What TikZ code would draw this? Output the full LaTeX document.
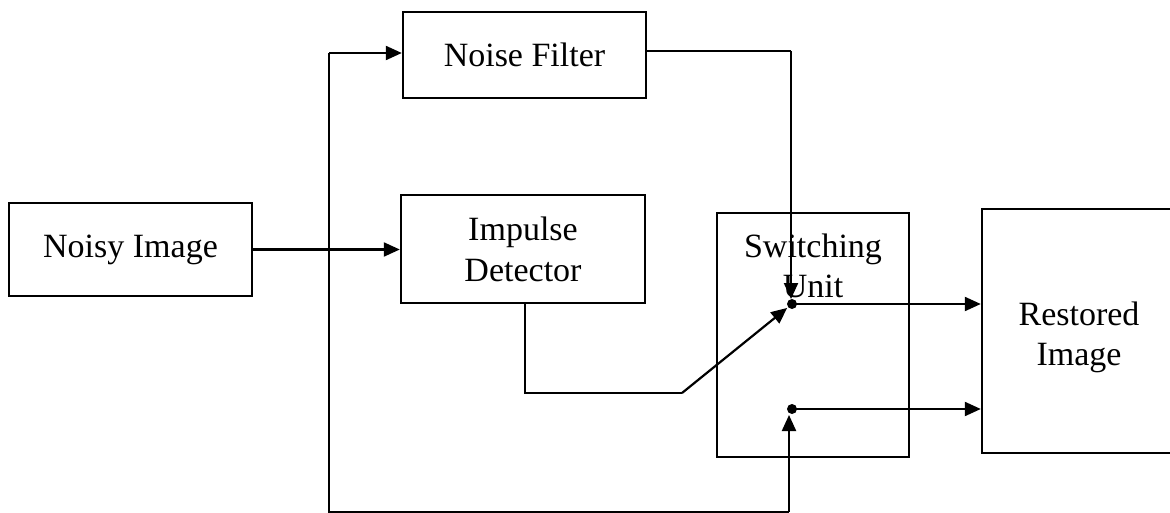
\documentclass[tikz,border=0pt]{standalone}
\usepackage{fontspec}
\setmainfont{Liberation Serif}
\usetikzlibrary{arrows.meta}
\begin{document}
\begin{tikzpicture}[x=1pt,y=-1pt,
  blk/.style={draw,line width=2.4pt,inner sep=0pt,align=center,font=\fontsize{34}{41}\selectfont},
  lab/.style={inner sep=0pt,align=center,font=\fontsize{34}{40}\selectfont},
  conn/.style={line width=2.2pt},
  arr/.style={conn,-{Triangle[length=16pt,width=14pt]}},
  dot/.style={circle,fill,inner sep=0pt,minimum size=10pt}]
\useasboundingbox (0,0) rectangle (1170,513);
% boxes
\node[blk,minimum width=243pt,minimum height=86pt] (nf) at (524.5,55) {Noise Filter};
\node[blk,minimum width=243pt,minimum height=93pt] (ni) at (130.5,249.5) {Noisy Image};
\node[blk,minimum width=244pt,minimum height=108pt] (id) at (523,249) {Impulse\\Detector};
\node[blk,minimum width=192pt,minimum height=244pt] (su) at (813,335) {};
\node[lab] (sut) at (813,266) {Switching\\Unit};
\node[blk,minimum width=196pt,minimum height=244pt] (ri) at (1080,331) {};
\node[lab] (rit) at (1079,337) {Restored\\Image};
% switch contacts
\node[dot] (d1) at (792,304) {};
\node[dot] (d2) at (792,409) {};
% helper coordinates
\coordinate (tl) at (329,53);
\coordinate (bl) at (329,512);
\coordinate (br) at (789,512);
\coordinate (nfo) at (646,51);
\coordinate (tr) at (791,51);
\coordinate (ido) at (525,303);
\coordinate (idc) at (525,393);
\coordinate (ide) at (682,393);
% connectors
\draw[arr] (ni.east) -- (ni.east -| id.west);
\draw[arr] (tl) -- (tl -| nf.west);
\draw[conn] (tl) -- (bl) -- (br);
\draw[arr,shorten >=2pt] (br) -- (789,413);
\draw[conn] (nfo) -- (tr);
\draw[arr,shorten >=1pt] (tr) -- (791,300);
\draw[conn] (ido) -- (idc) -- (ide);
\draw[arr,shorten >=1pt] (ide) -- (d1);
\draw[arr] (d1.center) -- (d1 -| ri.west);
\draw[arr] (d2.center) -- (d2 -| ri.west);
\end{tikzpicture}
\end{document}
